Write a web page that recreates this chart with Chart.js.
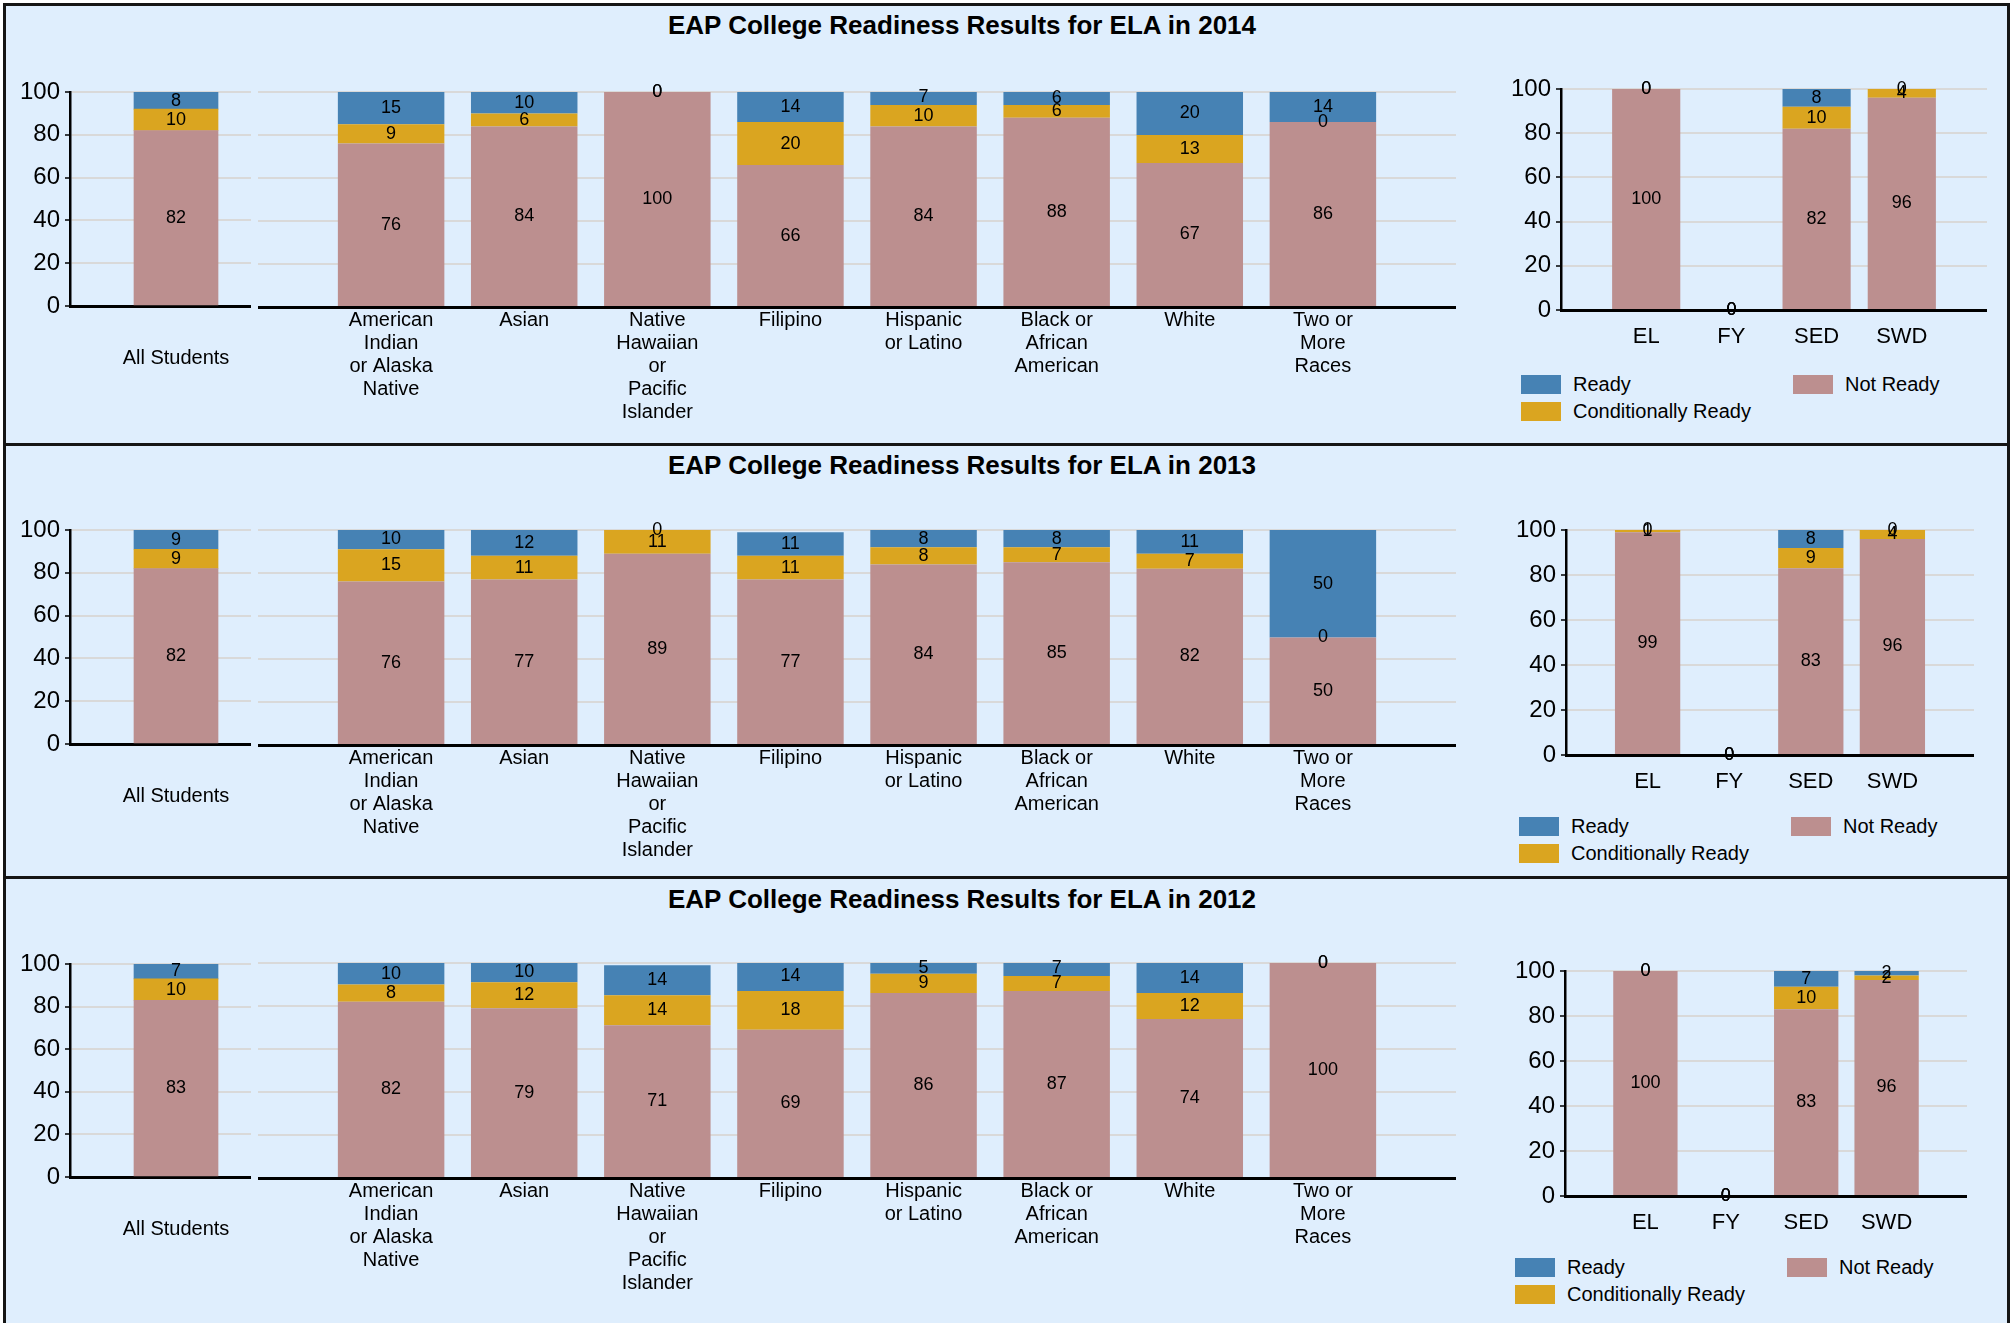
<!DOCTYPE html>
<html>
<head>
<meta charset="utf-8">
<script src="https://cdn.jsdelivr.net/npm/chart.js@4.4.1/dist/chart.umd.min.js"></script>
<style>
  html, body { margin: 0; padding: 0; background: #fff; }
  body { width: 2015px; height: 1323px; position: relative; overflow: hidden; font-family: "Liberation Sans", Arial, sans-serif; }
  .panel { position: absolute; left: 3px; width: 2007px; box-sizing: border-box; background: #dfeefd; border: 3px solid #151515; border-bottom: none; }
  .abs { position: absolute; }
  .title { position: absolute; left: 462px; width: 1000px; text-align: center; font-weight: bold; font-size: 26px; line-height: 32px; color: #000; }
  .item { position: absolute; display: flex; align-items: center; white-space: nowrap; height: 20px; font-size: 20px; color: #000; }
  .swatch { width: 40px; height: 19px; margin-right: 12px; }
</style>
</head>
<body>
<script>
// data
var years = ['2014', '2013', '2012'];
var seriesNames = ['Not Ready', 'Conditionally Ready', 'Ready'];
var seriesColors = ['#BC8F8F', '#DAA520', '#4682B4'];

var allLabels = ['All Students'];
var groupLabels = [
  ['American', 'Indian', 'or Alaska', 'Native'],
  ['Asian'],
  ['Native', 'Hawaiian', 'or', 'Pacific', 'Islander'],
  ['Filipino'],
  ['Hispanic', 'or Latino'],
  ['Black or', 'African', 'American'],
  ['White'],
  ['Two or', 'More', 'Races']
];
var programLabels = ['EL', 'FY', 'SED', 'SWD'];

// all students, one value per year (2014, 2013, 2012)
var allReady = [8, 9, 7];
var allCond = [10, 9, 10];
var allNot = [82, 82, 83];

// student groups
var groupReady2014 = [15, 10, 0, 14, 7, 6, 20, 14];
var groupCond2014 = [9, 6, 0, 20, 10, 6, 13, 0];
var groupNot2014 = [76, 84, 100, 66, 84, 88, 67, 86];

var groupReady2013 = [10, 12, 0, 11, 8, 8, 11, 50];
var groupCond2013 = [15, 11, 11, 11, 8, 7, 7, 0];
var groupNot2013 = [76, 77, 89, 77, 84, 85, 82, 50];

var groupReady2012 = [10, 10, 14, 14, 5, 7, 14, 0];
var groupCond2012 = [8, 12, 14, 18, 9, 7, 12, 0];
var groupNot2012 = [82, 79, 71, 69, 86, 87, 74, 100];

// programs
var progReady2014 = [0, 0, 8, 0];
var progCond2014 = [0, 0, 10, 4];
var progNot2014 = [100, 0, 82, 96];

var progReady2013 = [0, 0, 8, 0];
var progCond2013 = [1, 0, 9, 4];
var progNot2013 = [99, 0, 83, 96];

var progReady2012 = [0, 0, 7, 2];
var progCond2012 = [0, 0, 10, 2];
var progNot2012 = [100, 0, 83, 96];

var groupData = [
  [groupNot2014, groupCond2014, groupReady2014],
  [groupNot2013, groupCond2013, groupReady2013],
  [groupNot2012, groupCond2012, groupReady2012]
];
var progData = [
  [progNot2014, progCond2014, progReady2014],
  [progNot2013, progCond2013, progReady2013],
  [progNot2012, progCond2012, progReady2012]
];

// page layout (pixels)
var panels = [
  { top: 3, bottom: 443, titleY: 25, a: { top: 92, bottom: 306 }, b: { top: 92, bottom: 307 },
    c: { left: 1561, right: 1987, top: 89, bottom: 310 }, legend: { x: 1521, y: 374 } },
  { top: 443, bottom: 876, titleY: 465, a: { top: 530, bottom: 744 }, b: { top: 530, bottom: 745 },
    c: { left: 1566, right: 1974, top: 530, bottom: 755 }, legend: { x: 1519, y: 816 } },
  { top: 876, bottom: 1330, titleY: 899, a: { top: 964, bottom: 1177 }, b: { top: 963, bottom: 1178 },
    c: { left: 1565, right: 1967, top: 971, bottom: 1196 }, legend: { x: 1515, y: 1257 } }
];

Chart.defaults.font.family = '"Liberation Sans", Arial, sans-serif';
Chart.defaults.color = '#000';
Chart.defaults.animation = false;

// numbers in the middle of each segment
var valueLabels = {
  id: 'valueLabels',
  afterDatasetsDraw: function (chart) {
    var ctx = chart.ctx;
    ctx.save();
    ctx.font = '18px "Liberation Sans", Arial, sans-serif';
    ctx.fillStyle = '#000';
    ctx.textAlign = 'center';
    ctx.textBaseline = 'middle';
    chart.data.datasets.forEach(function (ds, i) {
      chart.getDatasetMeta(i).data.forEach(function (bar, j) {
        var v = ds.data[j];
        if (v === null || v === undefined) return;
        var p = bar.getProps(['x', 'y', 'base'], true);
        ctx.fillText(String(v), p.x, (p.y + p.base) / 2);
      });
    });
    ctx.restore();
  }
};

function pad(arr) {
  return [null].concat(arr, [null]);
}

function yAxis(show, width) {
  return {
    stacked: true, min: 0, max: 100,
    afterFit: function (s) { s.width = width; },
    ticks: { display: show, stepSize: 20, padding: 5, font: { size: 24 } },
    grid: { color: '#d9d9d9', lineWidth: 2, drawTicks: show, tickLength: 5, tickColor: '#000', tickWidth: 1.5 },
    border: { display: show, color: '#000', width: 2.5 }
  };
}

function xAxis(fontSize, padding, height) {
  return {
    stacked: true, offset: false,
    afterFit: function (s) { s.height = height; },
    ticks: { autoSkip: false, maxRotation: 0, minRotation: 0, padding: padding,
             font: { size: fontSize, lineHeight: 1.15 } },
    grid: { display: false, drawTicks: false },
    border: { color: '#000', width: 3 }
  };
}

function makeBox(left, top, width, height, clipWidth) {
  var outer = document.createElement('div');
  outer.className = 'abs';
  outer.style.left = left + 'px';
  outer.style.top = top + 'px';
  outer.style.width = (clipWidth || width) + 'px';
  outer.style.height = height + 'px';
  outer.style.overflow = 'hidden';
  var inner = document.createElement('div');
  inner.style.position = 'relative';
  inner.style.width = width + 'px';
  inner.style.height = height + 'px';
  var canvas = document.createElement('canvas');
  inner.appendChild(canvas);
  outer.appendChild(inner);
  document.body.appendChild(outer);
  return canvas;
}

function stacked(canvas, labels, series, yShow, yWidth, xFont, xPad, xHeight, thickness) {
  return new Chart(canvas, {
    type: 'bar',
    data: {
      labels: labels,
      datasets: series.map(function (d, i) {
        return {
          label: seriesNames[i],
          data: d,
          backgroundColor: seriesColors[i],
          borderWidth: 0,
          barPercentage: 1,
          categoryPercentage: 0.8,
          barThickness: thickness,
          clip: 0
        };
      })
    },
    options: {
      responsive: true,
      maintainAspectRatio: false,
      layout: { padding: { top: 20, left: 0, right: 0, bottom: 0 } },
      plugins: { legend: { display: false }, tooltip: { enabled: false }, title: { display: false } },
      scales: {
        x: xAxis(xFont, xPad, xHeight),
        y: yAxis(yShow, yWidth)
      }
    },
    plugins: [valueLabels]
  });
}

panels.forEach(function (p, k) {
  var panel = document.createElement('div');
  panel.className = 'panel';
  panel.style.top = p.top + 'px';
  panel.style.height = (p.bottom - p.top) + 'px';
  document.body.appendChild(panel);

  var title = document.createElement('div');
  title.className = 'title';
  title.style.top = (p.titleY - 16) + 'px';
  title.textContent = 'EAP College Readiness Results for ELA in ' + years[k];
  document.body.appendChild(title);

  // all students
  var hA = p.a.bottom - p.a.top + 20 + 100;
  var cA = makeBox(0, p.a.top - 20, 282, hA, 251);
  stacked(cA, pad(allLabels),
    [pad([allNot[k]]), pad([allCond[k]]), pad([allReady[k]])],
    true, 70, 20, 41, 100, 84);

  // student groups
  var hB = p.b.bottom - p.b.top + 20 + 140;
  var cB = makeBox(258, p.b.top - 20, 1198, hB);
  stacked(cB, pad(groupLabels),
    groupData[k].map(pad),
    false, 0, 20, 2, 140);

  // programs
  var hC = p.c.bottom - p.c.top + 20 + 50;
  var cC = makeBox(p.c.left - 60, p.c.top - 20, p.c.right - p.c.left + 60, hC);
  stacked(cC, pad(programLabels),
    progData[k].map(pad),
    true, 60, 22, 14, 50);

  // legend: Ready / Conditionally Ready in first column, Not Ready in second
  var order = [[2, 0, 0], [1, 0, 27], [0, 272, 0]];
  order.forEach(function (o) {
    var item = document.createElement('div');
    item.className = 'item';
    item.style.left = (p.legend.x + o[1]) + 'px';
    item.style.top = (p.legend.y + o[2]) + 'px';
    var sw = document.createElement('span');
    sw.className = 'swatch';
    sw.style.background = seriesColors[o[0]];
    var tx = document.createElement('span');
    tx.textContent = seriesNames[o[0]];
    item.appendChild(sw);
    item.appendChild(tx);
    document.body.appendChild(item);
  });
});
</script>
</body>
</html>
